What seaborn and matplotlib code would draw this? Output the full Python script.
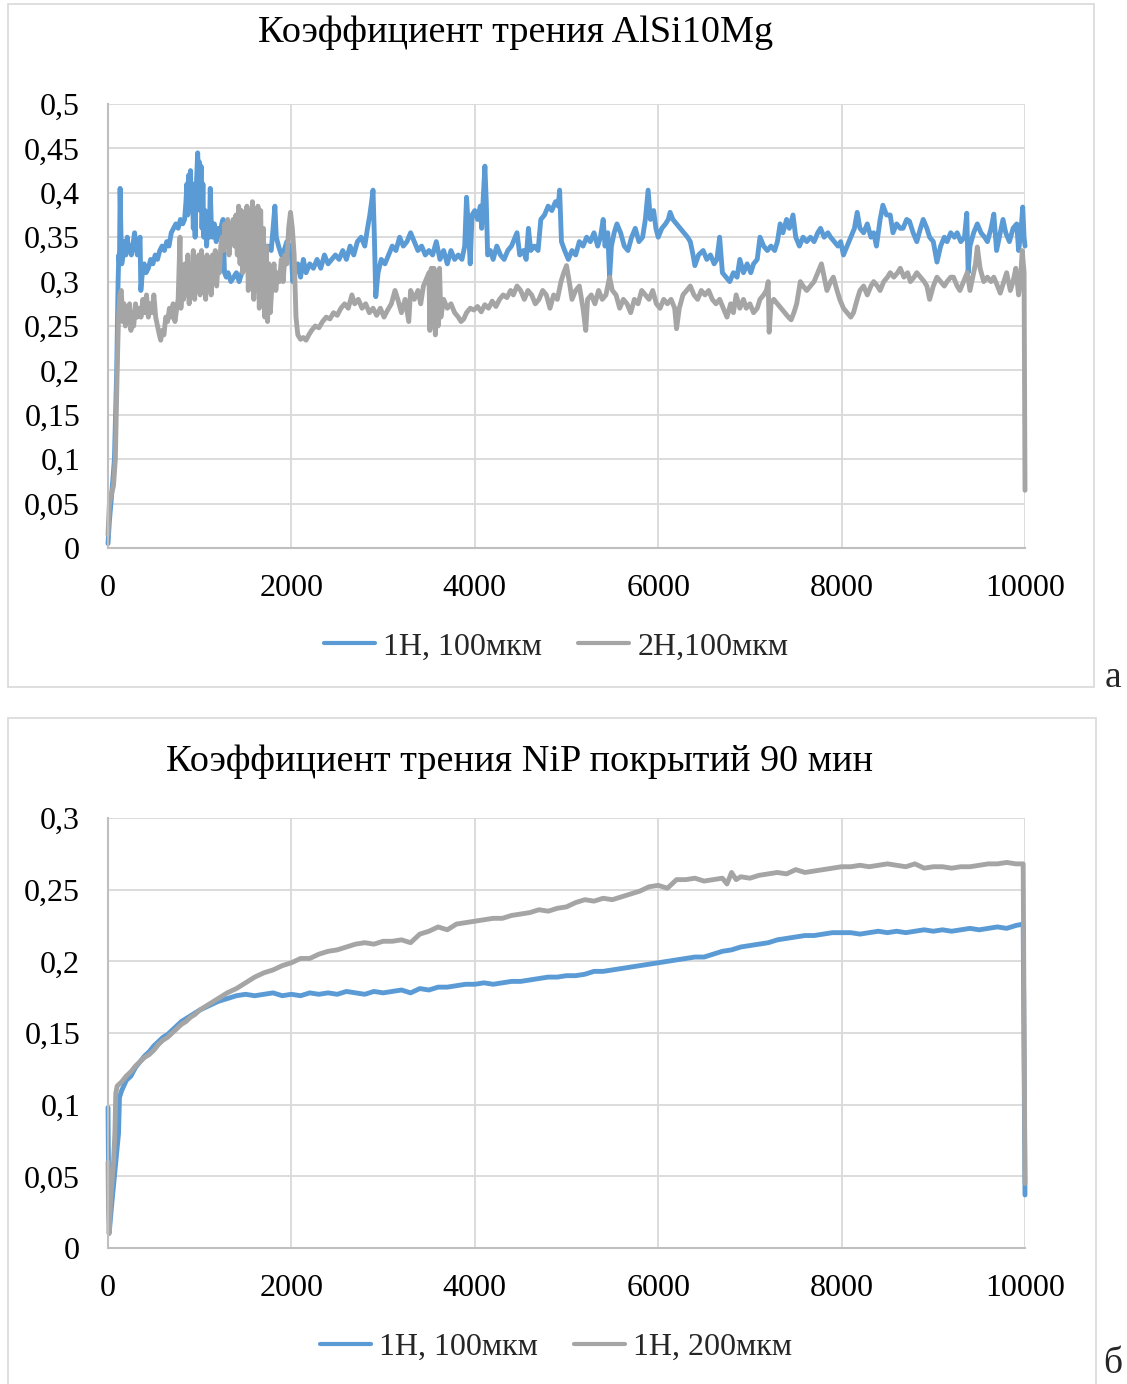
import numpy as np
import pandas as pd
import matplotlib
matplotlib.use("Agg")
import matplotlib.pyplot as plt
import seaborn as sns
from matplotlib.patches import Rectangle
from matplotlib.lines import Line2D
from matplotlib.ticker import FuncFormatter

# ---------------- DATA ----------------
title_top = "Коэффициент трения AlSi10Mg"
title_bottom = "Коэффициент трения NiP покрытий 90 мин"
series_top = ["1Н, 100мкм", "2Н,100мкм"]
series_bottom = ["1Н, 100мкм", "1Н, 200мкм"]
x_ticks = [0, 2000, 4000, 6000, 8000, 10000]
y_ticks_top = [0, 0.05, 0.1, 0.15, 0.2, 0.25, 0.3, 0.35, 0.4, 0.45, 0.5]
y_ticks_bottom = [0, 0.05, 0.1, 0.15, 0.2, 0.25, 0.3]
panel_letters = ["а", "б"]

# top panel, 1Н 100мкм (t, mu)
top_1n_points = [
    (0, 0.005), (15, 0.03), (40, 0.06), (70, 0.10), (95, 0.2), (110, 0.3), (118, 0.33), (125, 0.32),
    (132, 0.405), (140, 0.36), (150, 0.32), (165, 0.33), (180, 0.345), (195, 0.33), (210, 0.35),
    (225, 0.335), (240, 0.34), (255, 0.33), (270, 0.34), (290, 0.355), (305, 0.34), (320, 0.33),
    (335, 0.345), (350, 0.35), (358, 0.29), (375, 0.31), (395, 0.32), (415, 0.31), (440, 0.315),
    (465, 0.325), (490, 0.32), (515, 0.33), (540, 0.325), (565, 0.335), (590, 0.34), (615, 0.335),
    (640, 0.345), (665, 0.34), (690, 0.355), (715, 0.36), (740, 0.365), (765, 0.36), (790, 0.37),
    (815, 0.365), (835, 0.37), (850, 0.39), (860, 0.41), (870, 0.375), (880, 0.42), (890, 0.39),
    (900, 0.425), (910, 0.38), (920, 0.41), (930, 0.36), (940, 0.39), (950, 0.35), (960, 0.40),
    (970, 0.425), (978, 0.445), (986, 0.42), (995, 0.435), (1005, 0.38), (1015, 0.43), (1025, 0.36),
    (1035, 0.41), (1045, 0.35), (1060, 0.38), (1075, 0.34), (1090, 0.37), (1105, 0.35), (1115, 0.405),
    (1125, 0.37), (1140, 0.35), (1160, 0.365), (1180, 0.345), (1200, 0.36), (1220, 0.35), (1240, 0.365),
    (1255, 0.37), (1270, 0.31), (1290, 0.305), (1310, 0.31), (1340, 0.3), (1370, 0.305), (1400, 0.31),
    (1430, 0.3), (1460, 0.31), (1500, 0.32), (1540, 0.315), (1580, 0.33), (1620, 0.325), (1660, 0.34),
    (1700, 0.33), (1740, 0.34), (1780, 0.335), (1800, 0.36), (1820, 0.385), (1835, 0.35), (1860, 0.34),
    (1890, 0.33), (1920, 0.335), (1950, 0.345), (1980, 0.34), (2000, 0.33), (2015, 0.30), (2040, 0.31),
    (2070, 0.32), (2100, 0.305), (2130, 0.325), (2160, 0.31), (2200, 0.32), (2240, 0.315), (2280, 0.325),
    (2320, 0.315), (2360, 0.33), (2400, 0.32), (2440, 0.325), (2480, 0.33), (2520, 0.325), (2560, 0.335),
    (2600, 0.325), (2640, 0.34), (2680, 0.33), (2720, 0.345), (2760, 0.35), (2800, 0.34), (2830, 0.36),
    (2855, 0.375), (2875, 0.39), (2890, 0.403), (2905, 0.35), (2920, 0.283), (2945, 0.31), (2980, 0.325),
    (3020, 0.32), (3060, 0.33), (3100, 0.34), (3140, 0.335), (3180, 0.35), (3220, 0.34), (3260, 0.345),
    (3300, 0.355), (3340, 0.345), (3380, 0.335), (3420, 0.34), (3460, 0.33), (3500, 0.335), (3540, 0.33),
    (3580, 0.345), (3620, 0.325), (3660, 0.335), (3700, 0.32), (3740, 0.335), (3780, 0.325), (3820, 0.33),
    (3860, 0.325), (3890, 0.34), (3910, 0.395), (3930, 0.36), (3950, 0.32), (3970, 0.375), (4000, 0.38),
    (4030, 0.37), (4060, 0.385), (4075, 0.36), (4095, 0.40), (4110, 0.43), (4125, 0.39), (4140, 0.33),
    (4170, 0.335), (4200, 0.325), (4240, 0.34), (4280, 0.33), (4320, 0.325), (4360, 0.335), (4400, 0.34),
    (4440, 0.35), (4460, 0.355), (4490, 0.33), (4530, 0.335), (4560, 0.325), (4585, 0.36), (4610, 0.335),
    (4650, 0.34), (4690, 0.335), (4720, 0.37), (4760, 0.375), (4800, 0.385), (4840, 0.38), (4880, 0.39),
    (4910, 0.385), (4925, 0.403), (4945, 0.345), (4980, 0.335), (5020, 0.325), (5060, 0.335), (5100, 0.33),
    (5140, 0.345), (5180, 0.34), (5220, 0.35), (5260, 0.345), (5300, 0.355), (5340, 0.34), (5370, 0.35),
    (5400, 0.37), (5420, 0.34), (5450, 0.355), (5470, 0.305), (5490, 0.34), (5520, 0.355), (5550, 0.365),
    (5590, 0.355), (5630, 0.34), (5670, 0.335), (5710, 0.35), (5750, 0.36), (5790, 0.345), (5830, 0.35),
    (5860, 0.37), (5890, 0.403), (5915, 0.37), (5950, 0.38), (5975, 0.36), (6000, 0.35), (6040, 0.36),
    (6080, 0.365), (6110, 0.37), (6130, 0.378), (6160, 0.37), (6200, 0.365), (6240, 0.36), (6280, 0.355),
    (6320, 0.35), (6350, 0.345), (6380, 0.33), (6400, 0.318), (6440, 0.33), (6490, 0.335), (6530, 0.325),
    (6570, 0.33), (6610, 0.32), (6640, 0.325), (6670, 0.35), (6700, 0.31), (6740, 0.305), (6780, 0.30),
    (6820, 0.31), (6860, 0.305), (6890, 0.325), (6930, 0.31), (6970, 0.32), (7010, 0.31), (7040, 0.32),
    (7080, 0.325), (7110, 0.35), (7150, 0.34), (7190, 0.335), (7230, 0.34), (7270, 0.335), (7300, 0.345),
    (7330, 0.365), (7360, 0.355), (7400, 0.37), (7430, 0.36), (7470, 0.375), (7500, 0.35), (7540, 0.34),
    (7580, 0.35), (7620, 0.345), (7660, 0.35), (7700, 0.345), (7740, 0.355), (7770, 0.36), (7810, 0.35),
    (7850, 0.355), (7880, 0.35), (7920, 0.345), (7960, 0.34), (7990, 0.345), (8020, 0.33), (8060, 0.34),
    (8100, 0.35), (8140, 0.36), (8170, 0.378), (8200, 0.36), (8240, 0.355), (8280, 0.365), (8320, 0.35),
    (8350, 0.355), (8380, 0.34), (8420, 0.37), (8450, 0.386), (8490, 0.375), (8530, 0.375), (8560, 0.355),
    (8600, 0.365), (8640, 0.36), (8670, 0.36), (8710, 0.37), (8740, 0.368), (8780, 0.355), (8820, 0.345),
    (8860, 0.36), (8890, 0.37), (8930, 0.36), (8960, 0.35), (9000, 0.345), (9040, 0.322), (9080, 0.34),
    (9120, 0.35), (9150, 0.345), (9190, 0.355), (9230, 0.35), (9260, 0.355), (9300, 0.345), (9340, 0.35),
    (9365, 0.377), (9380, 0.31), (9400, 0.34), (9440, 0.355), (9480, 0.365), (9520, 0.355), (9560, 0.35),
    (9590, 0.345), (9630, 0.36), (9660, 0.376), (9690, 0.335), (9720, 0.35), (9760, 0.37), (9790, 0.355),
    (9830, 0.345), (9870, 0.36), (9910, 0.365), (9930, 0.335), (9955, 0.355), (9975, 0.384), (9990, 0.35),
    (10000, 0.34),
]

# top panel, 2Н 100мкм (t, mu)
top_2n_points = [
    (0, 0.015), (15, 0.05), (35, 0.06), (60, 0.07), (80, 0.10), (100, 0.2), (115, 0.26), (130, 0.285),
    (145, 0.29), (160, 0.255), (175, 0.275), (190, 0.25), (205, 0.27), (220, 0.255), (235, 0.275),
    (250, 0.245), (265, 0.265), (280, 0.25), (300, 0.275), (320, 0.26), (340, 0.27), (360, 0.26),
    (380, 0.28), (400, 0.265), (420, 0.285), (440, 0.26), (460, 0.275), (480, 0.265), (500, 0.285),
    (520, 0.26), (540, 0.25), (560, 0.24), (575, 0.234), (590, 0.245), (610, 0.24), (630, 0.26),
    (650, 0.255), (670, 0.27), (690, 0.26), (710, 0.275), (730, 0.255), (750, 0.27), (765, 0.28),
    (785, 0.35), (795, 0.27), (810, 0.3), (825, 0.28), (840, 0.32), (855, 0.285), (870, 0.33),
    (885, 0.275), (900, 0.31), (915, 0.285), (930, 0.335), (945, 0.28), (960, 0.32), (975, 0.29),
    (990, 0.33), (1005, 0.285), (1020, 0.335), (1035, 0.29), (1050, 0.32), (1065, 0.28), (1080, 0.33),
    (1095, 0.29), (1110, 0.32), (1125, 0.285), (1140, 0.33), (1155, 0.3), (1170, 0.335), (1185, 0.295),
    (1200, 0.32), (1215, 0.31), (1230, 0.34), (1245, 0.35), (1260, 0.335), (1275, 0.365), (1290, 0.34),
    (1305, 0.37), (1320, 0.33), (1335, 0.365), (1350, 0.345), (1365, 0.37), (1380, 0.34), (1395, 0.375),
    (1410, 0.33), (1425, 0.385), (1440, 0.32), (1455, 0.38), (1470, 0.31), (1485, 0.37), (1500, 0.33),
    (1515, 0.385), (1530, 0.29), (1545, 0.38), (1560, 0.3), (1575, 0.39), (1590, 0.28), (1605, 0.37),
    (1620, 0.29), (1635, 0.385), (1650, 0.27), (1665, 0.38), (1680, 0.28), (1695, 0.36), (1710, 0.26),
    (1725, 0.34), (1740, 0.255), (1755, 0.32), (1770, 0.265), (1790, 0.3), (1810, 0.32), (1830, 0.29),
    (1850, 0.31), (1870, 0.3), (1890, 0.325), (1910, 0.3), (1930, 0.33), (1950, 0.32), (1970, 0.36),
    (1990, 0.378), (2010, 0.36), (2030, 0.33), (2050, 0.26), (2070, 0.24), (2100, 0.235), (2130, 0.237),
    (2160, 0.234), (2190, 0.24), (2220, 0.245), (2260, 0.25), (2300, 0.248), (2340, 0.255), (2380, 0.26),
    (2420, 0.258), (2460, 0.265), (2500, 0.262), (2540, 0.27), (2580, 0.275), (2620, 0.27), (2660, 0.285),
    (2690, 0.275), (2730, 0.28), (2770, 0.27), (2810, 0.275), (2850, 0.265), (2890, 0.27), (2930, 0.262),
    (2970, 0.27), (3010, 0.26), (3050, 0.268), (3090, 0.275), (3130, 0.29), (3160, 0.28), (3200, 0.265),
    (3240, 0.28), (3280, 0.255), (3300, 0.29), (3340, 0.28), (3380, 0.29), (3410, 0.275), (3440, 0.295),
    (3480, 0.305), (3500, 0.31), (3510, 0.245), (3525, 0.315), (3540, 0.25), (3555, 0.315), (3570, 0.24),
    (3585, 0.31), (3600, 0.25), (3615, 0.315), (3630, 0.26), (3660, 0.28), (3700, 0.27), (3740, 0.275),
    (3780, 0.265), (3820, 0.26), (3850, 0.255), (3880, 0.258), (3910, 0.265), (3950, 0.27), (3990, 0.268),
    (4030, 0.272), (4070, 0.266), (4110, 0.274), (4150, 0.27), (4190, 0.278), (4230, 0.272), (4270, 0.28),
    (4310, 0.285), (4350, 0.282), (4390, 0.29), (4420, 0.285), (4460, 0.295), (4500, 0.29), (4540, 0.28),
    (4580, 0.29), (4620, 0.285), (4660, 0.275), (4700, 0.28), (4740, 0.29), (4780, 0.285), (4820, 0.27),
    (4860, 0.285), (4900, 0.28), (4940, 0.3), (4970, 0.31), (5000, 0.318), (5030, 0.3), (5060, 0.28),
    (5100, 0.29), (5140, 0.295), (5180, 0.27), (5210, 0.245), (5230, 0.28), (5270, 0.285), (5310, 0.275),
    (5350, 0.29), (5390, 0.28), (5430, 0.285), (5470, 0.305), (5500, 0.29), (5540, 0.285), (5580, 0.27),
    (5620, 0.28), (5660, 0.275), (5700, 0.265), (5740, 0.28), (5780, 0.275), (5820, 0.29), (5860, 0.285),
    (5900, 0.28), (5940, 0.29), (5980, 0.275), (6020, 0.27), (6060, 0.28), (6100, 0.275), (6140, 0.28),
    (6180, 0.27), (6200, 0.247), (6230, 0.27), (6270, 0.285), (6310, 0.29), (6350, 0.295), (6390, 0.285),
    (6430, 0.28), (6470, 0.29), (6510, 0.285), (6550, 0.29), (6590, 0.28), (6630, 0.275), (6670, 0.28),
    (6710, 0.27), (6750, 0.26), (6790, 0.275), (6820, 0.265), (6850, 0.285), (6890, 0.27), (6930, 0.28),
    (6960, 0.27), (7000, 0.275), (7040, 0.265), (7080, 0.27), (7110, 0.28), (7150, 0.285), (7180, 0.29),
    (7200, 0.30), (7210, 0.243), (7230, 0.275), (7260, 0.28), (7300, 0.275), (7340, 0.27), (7380, 0.265),
    (7420, 0.26), (7450, 0.257), (7480, 0.265), (7510, 0.275), (7550, 0.30), (7580, 0.295), (7620, 0.29),
    (7660, 0.295), (7700, 0.3), (7740, 0.31), (7780, 0.32), (7810, 0.305), (7840, 0.29), (7880, 0.3),
    (7910, 0.305), (7950, 0.29), (7980, 0.28), (8020, 0.27), (8060, 0.265), (8100, 0.26), (8130, 0.265),
    (8170, 0.28), (8200, 0.29), (8240, 0.295), (8280, 0.285), (8320, 0.295), (8350, 0.3), (8390, 0.295),
    (8420, 0.29), (8460, 0.3), (8500, 0.305), (8530, 0.31), (8570, 0.305), (8610, 0.31), (8640, 0.315),
    (8680, 0.305), (8720, 0.31), (8750, 0.3), (8790, 0.305), (8820, 0.31), (8860, 0.305), (8900, 0.3),
    (8930, 0.295), (8960, 0.28), (9000, 0.295), (9040, 0.305), (9080, 0.3), (9120, 0.295), (9150, 0.3),
    (9190, 0.305), (9220, 0.305), (9260, 0.295), (9290, 0.29), (9330, 0.3), (9370, 0.31), (9400, 0.29),
    (9430, 0.305), (9460, 0.32), (9480, 0.339), (9510, 0.315), (9550, 0.3), (9590, 0.305), (9630, 0.3),
    (9660, 0.305), (9700, 0.295), (9730, 0.287), (9770, 0.3), (9800, 0.31), (9840, 0.29), (9870, 0.3),
    (9900, 0.315), (9930, 0.285), (9950, 0.3), (9970, 0.335), (9990, 0.31), (10000, 0.065),
]

# bottom panel, 1Н 100мкм (t, mu)
bottom_100_points = [
    (0, 0.098), (5, 0.06), (15, 0.012), (40, 0.03), (70, 0.05), (100, 0.07), (115, 0.08), (125, 0.105),
    (150, 0.11), (200, 0.117), (250, 0.12), (300, 0.126), (350, 0.13), (400, 0.134), (450, 0.137),
    (500, 0.141), (550, 0.144), (600, 0.147), (650, 0.149), (700, 0.152), (750, 0.155), (800, 0.158),
    (850, 0.16), (900, 0.162), (950, 0.164), (1000, 0.166), (1100, 0.169), (1200, 0.172), (1300, 0.174),
    (1400, 0.176), (1500, 0.177), (1600, 0.176), (1700, 0.177), (1800, 0.178), (1900, 0.176), (2000, 0.177),
    (2100, 0.176), (2200, 0.178), (2300, 0.177), (2400, 0.178), (2500, 0.177), (2600, 0.179), (2700, 0.178),
    (2800, 0.177), (2900, 0.179), (3000, 0.178), (3100, 0.179), (3200, 0.18), (3300, 0.178), (3400, 0.181),
    (3500, 0.18), (3600, 0.182), (3700, 0.182), (3800, 0.183), (3900, 0.184), (4000, 0.184), (4100, 0.185),
    (4200, 0.184), (4300, 0.185), (4400, 0.186), (4500, 0.186), (4600, 0.187), (4700, 0.188), (4800, 0.189),
    (4900, 0.189), (5000, 0.19), (5100, 0.19), (5200, 0.191), (5300, 0.193), (5400, 0.193), (5500, 0.194),
    (5600, 0.195), (5700, 0.196), (5800, 0.197), (5900, 0.198), (6000, 0.199), (6100, 0.2), (6200, 0.201),
    (6300, 0.202), (6400, 0.203), (6500, 0.203), (6600, 0.205), (6700, 0.207), (6800, 0.208), (6900, 0.21),
    (7000, 0.211), (7100, 0.212), (7200, 0.213), (7300, 0.215), (7400, 0.216), (7500, 0.217), (7600, 0.218),
    (7700, 0.218), (7800, 0.219), (7900, 0.22), (8000, 0.22), (8100, 0.22), (8200, 0.219), (8300, 0.22),
    (8400, 0.221), (8500, 0.22), (8600, 0.221), (8700, 0.22), (8800, 0.221), (8900, 0.222), (9000, 0.221),
    (9100, 0.222), (9200, 0.221), (9300, 0.222), (9400, 0.223), (9500, 0.222), (9600, 0.223), (9700, 0.224),
    (9800, 0.223), (9900, 0.225), (9980, 0.226), (10000, 0.037),
]

# bottom panel, 1Н 200мкм (t, mu)
bottom_200_points = [
    (0, 0.06), (5, 0.03), (12, 0.01), (30, 0.035), (60, 0.06), (75, 0.08), (85, 0.108), (100, 0.113),
    (150, 0.116), (200, 0.12), (250, 0.123), (300, 0.127), (350, 0.13), (400, 0.133), (450, 0.135),
    (500, 0.138), (550, 0.142), (600, 0.145), (650, 0.147), (700, 0.15), (750, 0.153), (800, 0.156),
    (850, 0.158), (900, 0.161), (950, 0.163), (1000, 0.166), (1100, 0.17), (1200, 0.174), (1300, 0.178),
    (1400, 0.181), (1500, 0.185), (1600, 0.189), (1700, 0.192), (1800, 0.194), (1900, 0.197), (2000, 0.199),
    (2100, 0.202), (2200, 0.202), (2300, 0.205), (2400, 0.207), (2500, 0.208), (2600, 0.21), (2700, 0.212),
    (2800, 0.213), (2900, 0.212), (3000, 0.214), (3100, 0.214), (3200, 0.215), (3300, 0.213), (3400, 0.219),
    (3500, 0.221), (3600, 0.224), (3700, 0.222), (3800, 0.226), (3900, 0.227), (4000, 0.228), (4100, 0.229),
    (4200, 0.23), (4300, 0.23), (4400, 0.232), (4500, 0.233), (4600, 0.234), (4700, 0.236), (4800, 0.235),
    (4900, 0.237), (5000, 0.238), (5100, 0.241), (5200, 0.243), (5300, 0.242), (5400, 0.244), (5500, 0.243),
    (5600, 0.245), (5700, 0.247), (5800, 0.249), (5900, 0.252), (6000, 0.253), (6100, 0.251), (6200, 0.257),
    (6300, 0.257), (6400, 0.258), (6500, 0.256), (6600, 0.257), (6700, 0.258), (6750, 0.254), (6800, 0.262),
    (6850, 0.257), (6900, 0.259), (7000, 0.258), (7100, 0.26), (7200, 0.261), (7300, 0.262), (7400, 0.261),
    (7500, 0.264), (7600, 0.262), (7700, 0.263), (7800, 0.264), (7900, 0.265), (8000, 0.266), (8100, 0.266),
    (8200, 0.267), (8300, 0.266), (8400, 0.267), (8500, 0.268), (8600, 0.267), (8700, 0.266), (8800, 0.268),
    (8900, 0.265), (9000, 0.266), (9100, 0.266), (9200, 0.265), (9300, 0.266), (9400, 0.266), (9500, 0.267),
    (9600, 0.268), (9700, 0.268), (9800, 0.269), (9900, 0.268), (9980, 0.268), (10000, 0.045),
]

# ---------------- STYLE ----------------
sns.set_theme(style="white")
plt.rcParams["font.family"] = ["Liberation Serif", "DejaVu Serif"]
BLUE = "#5B9BD5"
GRAY = "#A5A5A5"
GRID = "#D9D9D9"
TICK_FS = 23
TITLE_FS = 27.5
LW = 3.5


def to_frame(points, name):
    return pd.DataFrame({"t": [p[0] for p in points], "mu": [p[1] for p in points], "series": name})


def comma_fmt(v, pos):
    s = f"{v:.2f}".rstrip("0").rstrip(".")
    return s.replace(".", ",")


fig = plt.figure(figsize=(11.27, 13.84), dpi=100)

# chart frames (Excel chart area borders)
fig.patches.append(Rectangle((8 / 1127, 1 - 687 / 1384), 1086 / 1127, 683 / 1384,
                             transform=fig.transFigure, fill=False, edgecolor=GRID, lw=1.2))
fig.patches.append(Rectangle((8 / 1127, -0.01), 1088 / 1127, 1 - 718 / 1384 + 0.01,
                             transform=fig.transFigure, fill=False, edgecolor=GRID, lw=1.2))

ax1 = fig.add_axes([108 / 1127, 1 - 548 / 1384, 917 / 1127, 444 / 1384])
ax2 = fig.add_axes([108 / 1127, 1 - 1248 / 1384, 917 / 1127, 430 / 1384])

panels = [
    (ax1, [to_frame(top_1n_points, series_top[0]), to_frame(top_2n_points, series_top[1])],
     series_top, y_ticks_top, title_top, 33, 647, 516),
    (ax2, [to_frame(bottom_100_points, series_bottom[0]), to_frame(bottom_200_points, series_bottom[1])],
     series_bottom, y_ticks_bottom, title_bottom, 762, 1347, 519),
]

for ax, frames, names, yt, title, title_y, leg_y, title_x in panels:
    df = pd.concat(frames, ignore_index=True)
    sns.lineplot(data=df, x="t", y="mu", hue="series", hue_order=names,
                 palette=[BLUE, GRAY], sort=False, estimator=None, ax=ax,
                 linewidth=LW, legend=False)
    for ln in ax.get_lines():
        ln.set_clip_on(False)
        ln.set_solid_joinstyle("round")
    ax.set_xlim(0, 10000)
    ax.set_ylim(yt[0], yt[-1])
    ax.set_xticks(x_ticks)
    ax.set_yticks(yt)
    ax.yaxis.set_major_formatter(FuncFormatter(comma_fmt))
    ax.grid(True, color=GRID, lw=1.3)
    ax.set_axisbelow(True)
    ax.set_xlabel("")
    ax.set_ylabel("")
    for side in ["top", "right"]:
        ax.spines[side].set_visible(False)
    for side in ["left", "bottom"]:
        ax.spines[side].set_color("#BFBFBF")
        ax.spines[side].set_linewidth(1.5)
    ax.tick_params(axis="both", length=0, labelsize=TICK_FS, colors="#000000")
    ax.tick_params(axis="y", pad=20)
    ax.tick_params(axis="x", pad=19)
    fig.text(title_x / 1127, 1 - title_y / 1384, title, ha="center", va="center",
             fontsize=TITLE_FS, color="#000000")
    handles = [Line2D([], [], color=BLUE, lw=3), Line2D([], [], color=GRAY, lw=3)]
    fig.legend(handles, names, loc="center", bbox_to_anchor=(556 / 1127, 1 - leg_y / 1384),
               ncol=2, frameon=False, fontsize=TICK_FS, handlelength=1.6, handletextpad=0.25,
               columnspacing=1.15)

fig.text(1113 / 1127, 1 - 678 / 1384, panel_letters[0], ha="center", va="center", fontsize=27)
fig.text(1113 / 1127, 1 - 1364 / 1384, panel_letters[1], ha="center", va="center", fontsize=27)

fig.savefig("out.png", dpi=100)
